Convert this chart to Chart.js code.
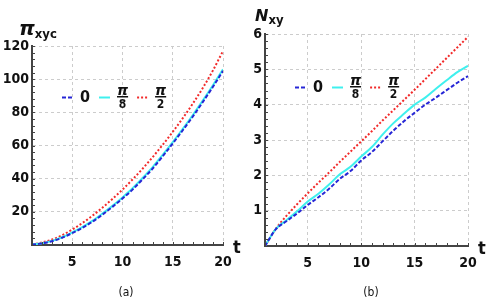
<!DOCTYPE html>
<html>
<head>
<meta charset="utf-8">
<script src="https://cdn.jsdelivr.net/npm/chart.js@4.4.0/dist/chart.umd.min.js"></script>
<style>
  body { margin: 0; background: #fff; }
  #wrap { position: relative; width: 496px; height: 300px; }
  .panel { position: absolute; top: 0; width: 248px; height: 300px; }
</style>
</head>
<body>
<div id="wrap">
  <div class="panel" style="left:0"><canvas id="chartA"></canvas></div>
  <div class="panel" style="left:248px"><canvas id="chartB"></canvas></div>
</div>
<script>
const t = [1, 2, 3, 4, 5, 6, 7, 8, 9, 10, 11, 12, 13, 14, 15, 16, 17, 18, 19, 20];
const labels = ["0", "π/8", "π/2"];

// (a) pi_xyc
const piZero = [0.2, 1.0, 2.3, 4.4, 7.2, 10.3, 14, 18.3, 23, 28, 33.4, 39.6, 46.1, 53.5, 61.2, 69.2, 77.5, 86.3, 95.4, 105];
const piEighth = [0.3, 1.1, 2.5, 4.7, 7.6, 10.8, 14.5, 18.9, 23.6, 28.7, 34.2, 40.4, 47, 54.4, 62.1, 70.1, 78.4, 87.2, 96.3, 106];
const piHalf = [0.3, 1.5, 3.3, 5.9, 9.3, 13.2, 17.6, 22.5, 27.8, 33.4, 39.5, 46, 53, 60.4, 68.2, 76.5, 85.3, 94.8, 105.3, 117];

// (b) N_xy
const nZero = [0, 0.47, 0.7, 0.92, 1.16, 1.38, 1.62, 1.9, 2.12, 2.42, 2.66, 2.96, 3.26, 3.53, 3.77, 4.0, 4.2, 4.41, 4.62, 4.81];
const nEighth = [0, 0.48, 0.73, 0.98, 1.26, 1.48, 1.74, 2.03, 2.24, 2.53, 2.8, 3.15, 3.47, 3.74, 4.0, 4.2, 4.45, 4.69, 4.92, 5.1];
const nHalf = [0, 0.48, 0.85, 1.18, 1.49, 1.79, 2.08, 2.38, 2.67, 2.96, 3.25, 3.55, 3.84, 4.13, 4.42, 4.72, 5.02, 5.32, 5.62, 5.92];

const FONT = "'DejaVu Sans Condensed', 'Liberation Sans', Arial, sans-serif";
const INK = "#111";

const decor = {
  id: "decor",
  afterDraw(chart, args, o) {
    const ctx = chart.ctx;
    const x = chart.scales.x;
    const y = chart.scales.y;
    const line = (x1, y1, x2, y2) => {
      ctx.beginPath();
      ctx.moveTo(x1, y1);
      ctx.lineTo(x2, y2);
      ctx.stroke();
    };
    ctx.save();

    // inward minor ticks
    ctx.strokeStyle = "#444";
    ctx.lineWidth = 1;
    for (let v = x.min; v <= x.max + 1e-9; v += o.minorX) {
      const px = Math.round(x.getPixelForValue(v)) + 0.5;
      line(px, y.bottom, px, y.bottom - 3);
    }
    for (let v = y.min; v <= y.max + 1e-9; v += o.minorY) {
      const py = Math.round(y.getPixelForValue(v)) + 0.5;
      line(x.left, py, x.left + 3, py);
    }

    // y axis title
    ctx.fillStyle = INK;
    ctx.textAlign = "left";
    ctx.textBaseline = "alphabetic";
    ctx.font = "italic bold " + o.sym.size + "px 'DejaVu Sans', Arial, sans-serif";
    ctx.fillText(o.sym.text, o.sym.x, o.sym.y);
    const w = ctx.measureText(o.sym.text).width;
    ctx.font = "bold 13px " + FONT;
    ctx.fillText(o.sub, o.sym.x + w, o.sym.y + o.subDy);

    // x axis title
    ctx.font = "bold 18px " + FONT;
    ctx.fillText("t", x.right + 10, y.bottom + 8);

    // caption
    ctx.font = "12px " + FONT;
    ctx.textAlign = "center";
    ctx.fillText(o.caption, o.captionX, 296);

    // legend
    let lx = o.legendX;
    const ly = o.legendY;
    ctx.textAlign = "left";
    chart.data.datasets.forEach(ds => {
      ctx.strokeStyle = ds.borderColor;
      ctx.lineWidth = 2;
      ctx.setLineDash(ds.borderDash || []);
      line(lx, ly + 0.5, lx + 11, ly + 0.5);
      ctx.setLineDash([]);
      lx += 18;
      const parts = ds.label.split("/");
      ctx.fillStyle = INK;
      if (parts.length === 1) {
        ctx.font = "bold 16px " + FONT;
        ctx.textBaseline = "middle";
        ctx.fillText(parts[0], lx, ly + 1);
        lx += ctx.measureText(parts[0]).width + 9;
      } else {
        ctx.textBaseline = "alphabetic";
        ctx.font = "italic bold 14px 'DejaVu Sans', Arial, sans-serif";
        const nw = ctx.measureText(parts[0]).width;
        ctx.fillText(parts[0], lx, ly - 2);
        ctx.fillRect(lx, ly - 1, nw, 1.5);
        ctx.font = "bold 12px " + FONT;
        const dw = ctx.measureText(parts[1]).width;
        ctx.fillText(parts[1], lx + (nw - dw) / 2, ly + 11);
        lx += nw + 9;
      }
    });
    ctx.restore();
  }
};

function makeChart(id, series, yMax, yStep, pad, yWidth, extra) {
  return new Chart(document.getElementById(id), {
    type: "line",
    data: {
      labels: t,
      datasets: [
        {
          label: labels[0],
          data: series[0],
          borderColor: "#2626d6",
          borderDash: [4, 2],
          borderWidth: 2,
        },
        {
          label: labels[1],
          data: series[1],
          borderColor: "#3ff0ee",
          borderWidth: 2,
        },
        {
          label: labels[2],
          data: series[2],
          borderColor: "#f22a2a",
          borderDash: [2, 2],
          borderWidth: 2,
        },
      ],
    },
    options: {
      animation: false,
      responsive: true,
      maintainAspectRatio: false,
      layout: { padding: pad },
      elements: {
        point: { radius: 0 },
        line: { cubicInterpolationMode: "monotone" },
      },
      plugins: {
        legend: { display: false },
        tooltip: { enabled: false },
        decor: extra,
      },
      scales: {
        x: {
          type: "linear",
          min: 1,
          max: 20,
          afterFit: s => { s.height = 30; },
          ticks: {
            stepSize: 5,
            padding: 9,
            color: INK,
            font: { family: FONT, size: 14, weight: "bold" },
            callback: v => (v % 5 === 0 ? v : ""),
          },
          grid: {
            color: "#cccccc",
            drawTicks: false,
          },
          border: { color: "#444", width: 2, dash: [3, 3] },
        },
        y: {
          min: 0,
          max: yMax,
          afterFit: s => { s.width = yWidth; },
          ticks: {
            stepSize: yStep,
            padding: 3,
            color: INK,
            font: { family: FONT, size: 14, weight: "bold" },
            callback: v => (v === 0 ? "" : v),
          },
          grid: {
            color: "#cccccc",
            drawTicks: false,
          },
          border: { color: "#444", width: 2, dash: [3, 3] },
        },
      },
    },
    plugins: [decor],
  });
}

makeChart("chartA", [piZero, piEighth, piHalf], 120, 20,
  { left: 0, top: 46, right: 25, bottom: 25 }, 32,
  {
    minorX: 1, minorY: 4,
    sym: { text: "π", size: 20, x: 19, y: 35 }, sub: "xyc", subDy: 3,
    caption: "(a)", captionX: 126,
    legendX: 62, legendY: 97,
  });

makeChart("chartB", [nZero, nEighth, nHalf], 6, 1,
  { left: 0, top: 34, right: 28, bottom: 24 }, 17,
  {
    minorX: 1, minorY: 0.2,
    sym: { text: "N", size: 16, x: 7, y: 21 }, sub: "xy", subDy: 3,
    caption: "(b)", captionX: 123,
    legendX: 47, legendY: 87,
  });
</script>
</body>
</html>
